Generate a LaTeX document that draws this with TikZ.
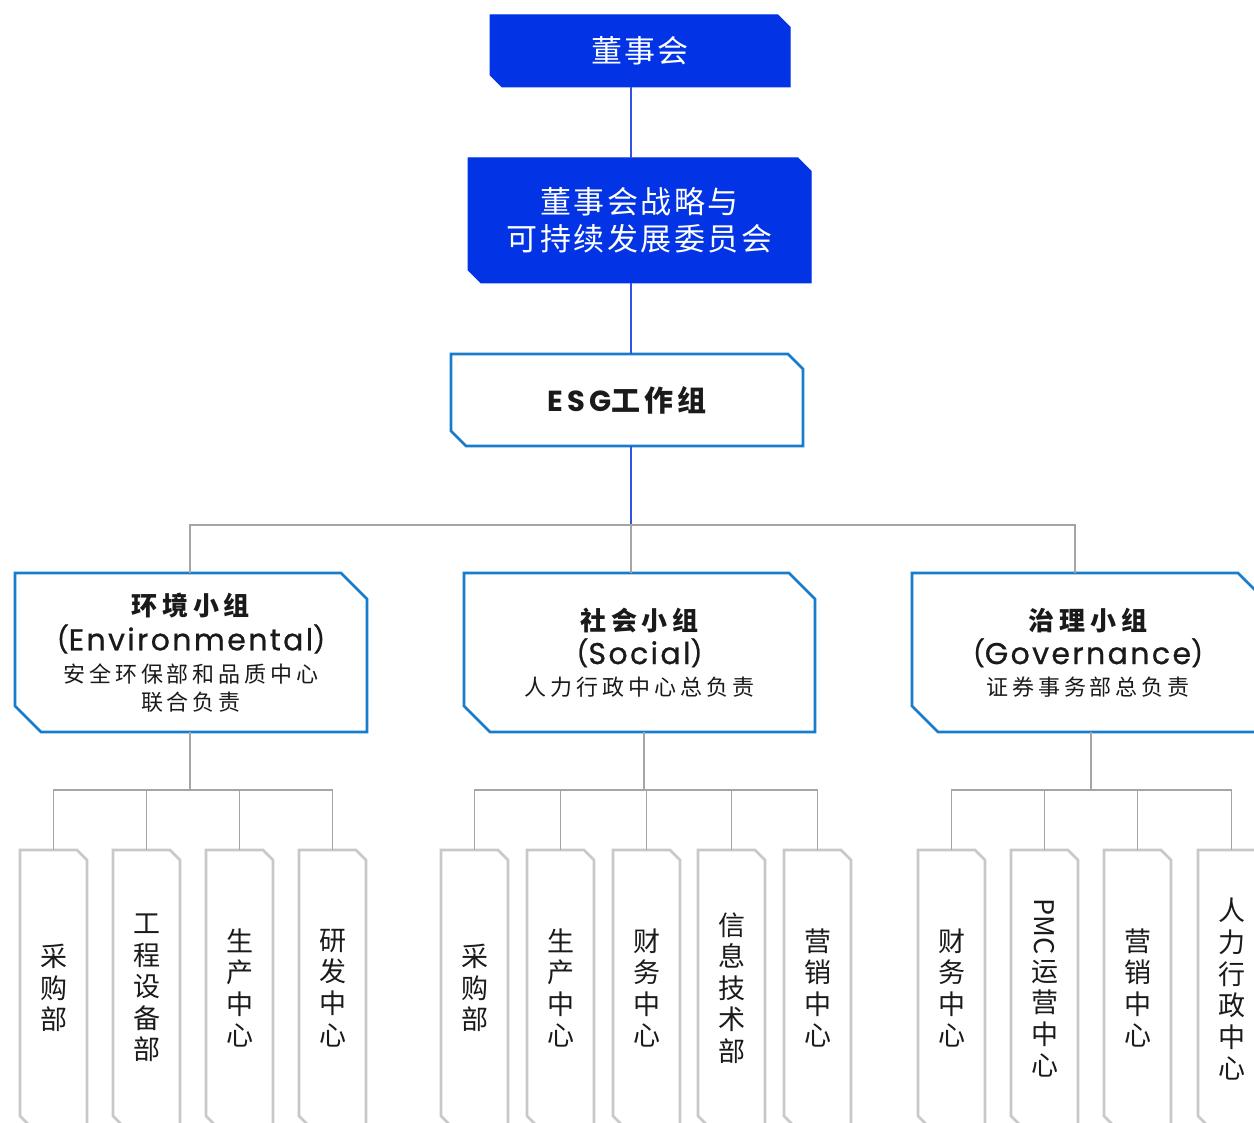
\documentclass[tikz,border=0pt]{standalone}
\usepackage{fontspec}
\setmainfont{Noto Sans CJK SC}
\newfontfamily\latinf{Poppins}
\usetikzlibrary{backgrounds}
\definecolor{bfill}{RGB}{2,52,230}
\definecolor{bline}{RGB}{50,82,225}
\definecolor{eline}{RGB}{24,124,204}
\definecolor{gline}{RGB}{165,165,165}
\definecolor{dline}{RGB}{200,200,200}
\definecolor{tx}{RGB}{26,26,26}
\newcommand\chbox[3]{%
  \path[#3] (#1.north west) -- ([xshift=-#2]#1.north east) -- ([yshift=-#2]#1.north east)
    -- (#1.south east) -- ([xshift=#2]#1.south west) -- ([yshift=#2]#1.south west) -- cycle;}
\tikzset{
  plain/.style={rectangle, inner sep=0pt, outer sep=0pt, align=center},
  topbox/.style={plain, text=white, font=\fontsize{31}{37}\selectfont\addfontfeature{LetterSpace=8}},
  grpbox/.style={plain, text=tx, minimum width=352pt, minimum height=159pt},
  deptbox/.style={plain, text=tx, minimum width=67pt, minimum height=276pt,
    font=\fontsize{27}{31.6}\selectfont},
  bluefill/.style={fill=bfill, draw=bfill, line width=1pt},
  blueedge/.style={fill=white, draw=eline, line width=2.8pt, line join=miter},
  grayedge/.style={fill=white, draw=dline, line width=2.6pt},
  bl/.style={draw=bline, line width=1.8pt},
  gl/.style={draw=gline, line width=1.5pt},
}
\newcommand\pn[1]{{\fontsize{26}{32}\selectfont\addfontfeature{LetterSpace=8,FakeBold=0.8}\raisebox{1.5pt}{#1}}}
\newcommand\lat[1]{{\latinf\fontsize{30}{32}\selectfont\addfontfeature{LetterSpace=8,FakeBold=0.8}\pn{(}#1\pn{)}}}
\newcommand\sub[1]{{\fontsize{22}{26}\selectfont\addfontfeature{LetterSpace=18}#1}}
\newcommand\ttl[1]{{\bfseries\addfontfeature{LetterSpace=18}#1}}
\begin{document}
\begin{tikzpicture}[x=1pt,y=-1pt]
\useasboundingbox (0,0) rectangle (1254,1123);
\clip (0,0) rectangle (1254,1123);
% top boxes
\node[topbox, minimum width=300pt, minimum height=72pt] (board) at (640,51) {董事会};
\node[topbox, minimum width=343pt, minimum height=125pt] (cmte) at (639.5,220.5) {董事会战略与\\可持续发展委员会};
\node[plain, text=tx, minimum width=352pt, minimum height=92pt,
  font=\fontsize{29}{34}\selectfont\bfseries\addfontfeature{LetterSpace=14}] (esg) at (627,400)
  {{\latinf\bfseries\addfontfeature{LetterSpace=14}ESG}工作组};
% group boxes
\node[grpbox, font=\fontsize{26}{32}\selectfont] (env) at (191,652.5)
  {\ttl{环境小组}\\[3pt] \lat{Environmental}\\ \sub{安全环保部和品质中心}\\[-4pt] \sub{联合负责}};
\node[grpbox, minimum width=351pt, font=\fontsize{26}{31.5}\selectfont] (soc) at (639.5,652.5)
  {\ttl{社会小组}\\[2.5pt] \lat{Social}\\ \sub{人力行政中心总负责}};
\node[grpbox, font=\fontsize{26}{31.5}\selectfont] (gov) at (1088,652.5)
  {\ttl{治理小组}\\[2.5pt] \lat{Governance}\\ \sub{证券事务部总负责}};
% departments
\node[deptbox] (e1) at (53.5,988) {采\\购\\部};
\node[deptbox] (e2) at (146.5,988) {工\\程\\设\\备\\部};
\node[deptbox] (e3) at (239.5,988) {生\\产\\中\\心};
\node[deptbox] (e4) at (332.5,988) {研\\发\\中\\心};
\node[deptbox] (s1) at (474.5,988) {采\\购\\部};
\node[deptbox] (s2) at (560.5,988) {生\\产\\中\\心};
\node[deptbox] (s3) at (646.5,988) {财\\务\\中\\心};
\node[deptbox] (s4) at (731.5,988) {信\\息\\技\\术\\部};
\node[deptbox] (s5) at (817.5,988) {营\\销\\中\\心};
\node[deptbox] (g1) at (951.5,988) {财\\务\\中\\心};
\node[deptbox] (g2) at (1044.5,988) {\rotatebox{-90}{PMC}\\[4pt]运\\营\\中\\心};
\node[deptbox] (g3) at (1137.5,988) {营\\销\\中\\心};
\node[deptbox] (g4) at (1231.5,988) {\\[-6pt]人\\力\\行\\政\\中\\心};
% outlines
\begin{scope}[on background layer]
  \chbox{board}{12pt}{bluefill}
  \chbox{cmte}{13pt}{bluefill}
  \chbox{esg}{15pt}{blueedge}
  \chbox{env}{26pt}{blueedge}
  \chbox{soc}{26pt}{blueedge}
  \chbox{gov}{26pt}{blueedge}
  \foreach \d in {e1,e2,e3,e4,s1,s2,s3,s4,s5,g1,g2,g3,g4}{\chbox{\d}{10pt}{grayedge}}
\end{scope}
% coordinates
\coordinate (vx) at (631,0);
\coordinate (j0) at (631,525);
\coordinate (tE) at (190,525);
\coordinate (tG) at (1075,525);
\coordinate (hE) at (190,790);
\coordinate (hS) at (644,790);
\coordinate (hG) at (1091,790);
% blue connectors
\draw[bl] (board.south -| vx) -- (cmte.north -| vx);
\draw[bl] (cmte.south -| vx) -- (esg.north -| vx);
\draw[bl] (esg.south -| vx) -- (j0);
% gray tree
\draw[gl] (env.north -| tE) -- (tE) -- (tG) -- (gov.north -| tG);
\draw[gl] (j0) -- (soc.north -| j0);
\draw[gl] (env.south -| hE) -- (hE);
\draw[gl] (soc.south -| hS) -- (hS);
\draw[gl] (gov.south -| hG) -- (hG);
\draw[gl] (e1.north) |- (hE) -| (e4.north);
\draw[gl] (e2.north) -- (e2.north |- hE);
\draw[gl] (e3.north) -- (e3.north |- hE);
\draw[gl] (s1.north) |- (hS) -| (s5.north);
\draw[gl] (s2.north) -- (s2.north |- hS);
\draw[gl] (s3.north) -- (s3.north |- hS);
\draw[gl] (s4.north) -- (s4.north |- hS);
\draw[gl] (g1.north) |- (hG) -| (g4.north);
\draw[gl] (g2.north) -- (g2.north |- hG);
\draw[gl] (g3.north) -- (g3.north |- hG);
\end{tikzpicture}
\end{document}
